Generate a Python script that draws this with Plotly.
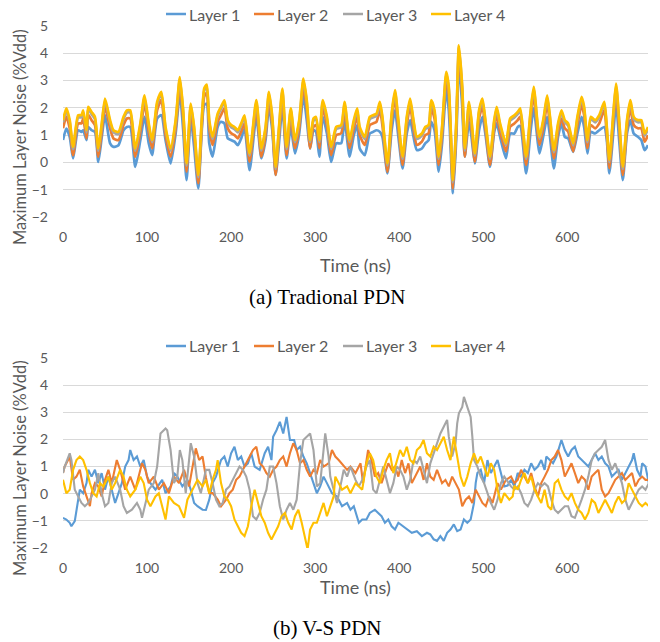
import plotly.graph_objects as go

# ---------------- (a) Traditional PDN ----------------
t_a = [0, 4, 8, 12, 18, 22, 24, 28, 30, 34,
       38, 42, 46, 50, 56, 60, 66, 72, 76, 80,
       86, 92, 97, 102, 106, 112, 117, 122, 128, 134,
       139, 143, 147, 152, 156, 161, 168, 171, 174, 178,
       184, 188, 192, 196, 200, 204, 208, 212, 216, 222,
       230, 236, 241, 245, 249, 253, 257, 261, 266, 271,
       276, 281, 286, 290, 294, 298, 301, 305, 309, 314,
       319, 325, 331, 335, 341, 346, 350, 353, 359, 365,
       369, 373, 377, 380, 386, 391, 395, 399, 404, 409,
       413, 417, 421, 427, 431, 435, 438, 442, 447, 451,
       456, 459, 464, 468, 471, 475, 478, 483, 486, 490,
       495, 499, 503, 508, 513, 516, 520, 527, 532, 537,
       541, 544, 551, 556, 560, 565, 567, 572, 576, 579,
       584, 589, 593, 597, 601, 607, 612, 617, 620, 624,
       628, 633, 638, 644, 647, 650, 655, 658, 662, 666,
       671, 675, 679, 684, 688, 692, 696]

a_layer1 = [0.82, 1.24, 0.94, 0.15, 1.18, 1.12, 1.18, 0.82, 1.30, 1.18,
            1.12, 0.02, 0.90, 1.73, 0.70, 0.57, 0.63, 1.18, 1.30, 1.30,
            -0.16, 0.82, 1.67, 0.70, 0.27, 1.61, 1.73, 0.82, -0.04, 1.06,
            2.52, 1.18, -0.65, 1.61, 0.57, -0.95, 2.10, 2.15, 0.70, 0.21,
            1.30, 1.49, 1.43, 0.88, 0.82, 0.76, 0.63, 0.88, 1.24, -0.28,
            1.67, 0.15, 0.82, 2.04, 1.18, -0.46, 0.70, 2.04, 0.15, 1.30,
            0.33, 1.06, 2.46, 1.55, 0.51, 1.18, 1.12, 0.21, 1.67, 1.06,
            0.02, 0.70, 0.70, 1.55, 0.21, 1.00, 1.37, 0.51, 0.27, 1.06,
            1.12, 1.18, 1.12, 0.94, -0.40, 1.18, 1.91, 0.94, -0.22, 1.06,
            1.55, 0.94, 0.45, 0.51, 0.70, 0.82, 1.49, 1.18, -0.34, 0.70,
            2.65, 1.91, -1.13, 0.94, 3.62, 2.04, 0.21, 1.49, 0.94, -0.04,
            1.18, 1.67, 0.94, -0.16, 1.12, 1.43, 0.94, 0.15, 1.06, 1.06,
            1.30, 1.33, -0.40, 1.06, 1.98, 0.70, 0.33, 1.06, 1.67, 1.06,
            -0.22, 0.94, 1.43, 0.94, 0.88, 0.39, 1.06, 1.67, 1.30, 0.33,
            1.12, 1.06, 1.18, 1.30, 0.82, -0.40, 1.18, 2.16, 0.70, -0.65,
            1.06, 1.55, 1.06, 0.94, 0.82, 0.45, 0.63]

a_layer2 = [1.25, 1.68, 1.25, 0.27, 1.43, 1.43, 1.61, 0.88, 1.74, 1.55,
            1.37, 0.21, 1.10, 2.04, 1.25, 0.88, 0.82, 1.37, 1.61, 1.61,
            0.21, 1.13, 2.16, 1.13, 0.52, 1.92, 2.29, 1.00, 0.21, 1.25,
            2.83, 1.61, -0.34, 1.86, 1.00, -0.76, 2.41, 2.55, 1.25, 0.64,
            1.49, 1.74, 1.98, 1.25, 1.07, 1.00, 0.88, 1.13, 1.43, 0.03,
            1.98, 0.21, 1.00, 2.29, 1.37, -0.46, 1.00, 2.41, 0.27, 1.68,
            0.52, 1.25, 2.77, 1.98, 0.52, 1.31, 1.37, 0.52, 1.98, 1.37,
            0.27, 1.00, 1.07, 1.92, 0.52, 1.25, 1.68, 1.00, 0.64, 1.37,
            1.43, 1.49, 1.92, 1.37, -0.34, 1.49, 2.35, 1.25, -0.09, 1.37,
            2.04, 1.25, 0.64, 0.76, 1.00, 1.07, 1.98, 1.61, -0.09, 1.00,
            3.02, 2.47, -0.95, 1.25, 3.99, 2.47, 0.21, 1.92, 1.25, 0.03,
            1.61, 2.04, 1.13, -0.09, 1.25, 1.74, 1.13, 0.40, 1.31, 1.43,
            1.55, 1.68, -0.09, 1.49, 2.47, 1.00, 0.64, 1.37, 2.16, 1.49,
            0.15, 1.13, 1.61, 1.25, 1.13, 0.40, 1.37, 2.10, 1.74, 0.52,
            1.37, 1.25, 1.43, 1.92, 1.00, -0.21, 1.61, 2.59, 1.13, -0.46,
            1.25, 1.98, 1.37, 1.25, 1.25, 0.76, 1.00]

a_layer3 = [1.47, 1.90, 1.47, 0.49, 1.65, 1.65, 1.83, 1.10, 1.96, 1.77,
            1.59, 0.43, 1.32, 2.26, 1.47, 1.10, 1.04, 1.59, 1.83, 1.83,
            0.43, 1.35, 2.38, 1.35, 0.74, 2.14, 2.51, 1.22, 0.43, 1.47,
            3.05, 1.83, -0.12, 2.08, 1.22, -0.54, 2.63, 2.77, 1.47, 0.86,
            1.71, 1.96, 2.20, 1.47, 1.29, 1.22, 1.10, 1.35, 1.65, 0.25,
            2.20, 0.43, 1.22, 2.51, 1.59, -0.24, 1.22, 2.63, 0.49, 1.90,
            0.74, 1.47, 2.99, 2.20, 0.74, 1.53, 1.59, 0.74, 2.20, 1.59,
            0.49, 1.22, 1.29, 2.14, 0.74, 1.47, 1.90, 1.22, 0.86, 1.59,
            1.65, 1.71, 2.14, 1.59, -0.12, 1.71, 2.57, 1.47, 0.13, 1.59,
            2.26, 1.47, 0.86, 0.98, 1.22, 1.29, 2.20, 1.83, 0.13, 1.22,
            3.24, 2.69, -0.73, 1.47, 4.21, 2.69, 0.43, 2.14, 1.47, 0.25,
            1.83, 2.26, 1.35, 0.13, 1.47, 1.96, 1.35, 0.62, 1.53, 1.65,
            1.77, 1.90, 0.13, 1.71, 2.69, 1.22, 0.86, 1.59, 2.38, 1.71,
            0.37, 1.35, 1.83, 1.47, 1.35, 0.62, 1.59, 2.32, 1.96, 0.74,
            1.59, 1.47, 1.65, 2.14, 1.22, 0.01, 1.83, 2.81, 1.35, -0.24,
            1.47, 2.20, 1.59, 1.47, 1.47, 0.98, 1.22]

a_layer4 = [1.55, 1.98, 1.55, 0.57, 1.73, 1.73, 1.91, 1.18, 2.04, 1.85,
            1.67, 0.51, 1.40, 2.34, 1.55, 1.18, 1.12, 1.67, 1.91, 1.91,
            0.51, 1.43, 2.46, 1.43, 0.82, 2.22, 2.59, 1.30, 0.51, 1.55,
            3.13, 1.91, -0.04, 2.16, 1.30, -0.46, 2.71, 2.85, 1.55, 0.94,
            1.79, 2.04, 2.28, 1.55, 1.37, 1.30, 1.18, 1.43, 1.73, 0.33,
            2.28, 0.51, 1.30, 2.59, 1.67, -0.16, 1.30, 2.71, 0.57, 1.98,
            0.82, 1.55, 3.07, 2.28, 0.82, 1.61, 1.67, 0.82, 2.28, 1.67,
            0.57, 1.30, 1.37, 2.22, 0.82, 1.55, 1.98, 1.30, 0.94, 1.67,
            1.73, 1.79, 2.22, 1.67, -0.04, 1.79, 2.65, 1.55, 0.21, 1.67,
            2.34, 1.55, 0.94, 1.06, 1.30, 1.37, 2.28, 1.91, 0.21, 1.30,
            3.32, 2.77, -0.65, 1.55, 4.29, 2.77, 0.51, 2.22, 1.55, 0.33,
            1.91, 2.34, 1.43, 0.21, 1.55, 2.04, 1.43, 0.70, 1.61, 1.73,
            1.85, 1.98, 0.21, 1.79, 2.77, 1.30, 0.94, 1.67, 2.46, 1.79,
            0.45, 1.43, 1.91, 1.55, 1.43, 0.70, 1.67, 2.40, 2.04, 0.82,
            1.67, 1.55, 1.73, 2.22, 1.30, 0.09, 1.91, 2.89, 1.43, -0.16,
            1.55, 2.28, 1.67, 1.55, 1.55, 1.06, 1.30]

# ---------------- (b) V-S PDN : (time ns, noise %Vdd) ----------------
b_layer1 = [(0, -0.89), (4, -0.95), (8, -1.07), (10, -1.2), (14, -1.01), (18, -0.1), (20, 0.15), (24, 0.02),
            (28, 0.39), (30, 0.88), (34, 0.63), (38, 0.88), (42, 0.39), (46, 0.76), (50, 0.15), (54, 0.63),
            (58, 0.15), (62, -0.34), (66, 0.02), (70, 0.39), (74, 1.0), (78, 1.24), (80, 1.61), (84, 1.24),
            (88, 1.37), (92, 1.0), (96, 1.24), (100, 0.63), (104, 0.39), (110, 0.15), (118, 0.51), (122, 0.02),
            (128, 0.27), (132, 0.76), (136, 0.63), (142, 0.27), (148, 0.51), (152, 0.15), (156, -0.34), (160, -0.46),
            (166, -0.59), (170, -0.6), (174, -0.22), (178, 0.39), (182, 0.63), (188, 1.24), (192, 1.37), (196, 1.0),
            (200, 1.49), (204, 1.73), (208, 1.24), (212, 1.37), (216, 1.0), (220, 1.12), (224, 1.49), (228, 1.0),
            (234, 0.88), (240, 1.49), (244, 1.73), (248, 1.24), (250, 2.1), (254, 2.34), (258, 2.65), (262, 2.22),
            (266, 2.83), (270, 1.98), (275, 1.98), (278, 1.61), (282, 1.73), (286, 1.37), (290, 1.12), (294, 0.76),
            (298, 0.39), (302, 0.02), (306, 0.27), (310, 0.63), (314, 0.39), (320, 0.02), (326, -0.1), (332, -0.46),
            (338, -0.34), (342, -0.59), (346, -0.46), (352, -1.07), (356, -0.95), (361, -0.95), (365, -0.71), (371, -0.59),
            (375, -0.71), (379, -0.83), (383, -1.07), (387, -0.95), (391, -1.2), (395, -1.32), (399, -1.07), (405, -1.2),
            (409, -1.32), (415, -1.44), (421, -1.38), (427, -1.56), (433, -1.44), (437, -1.5), (441, -1.68), (445, -1.74),
            (449, -1.56), (453, -1.74), (457, -1.44), (461, -1.32), (465, -1.13), (469, -1.38), (473, -1.32), (477, -0.95),
            (481, -1.07), (485, -0.95), (489, -0.34), (491, 0.39), (493, 0.76), (497, 0.88), (501, 0.39), (505, 1.24),
            (509, 0.76), (513, 1.0), (517, 1.24), (521, 0.76), (525, 0.27), (529, 0.3), (533, 0.51), (537, 0.27),
            (541, 0.76), (545, 0.63), (549, 0.88), (553, 0.76), (557, 1.12), (561, 0.88), (565, 1.0), (569, 1.24),
            (573, 0.88), (575, 1.37), (579, 1.24), (583, 1.12), (587, 1.37), (591, 1.73), (593, 1.98), (597, 1.61),
            (601, 1.37), (605, 1.61), (609, 1.73), (613, 1.37), (617, 1.24), (621, 1.12), (625, 1.0), (629, 1.24),
            (633, 1.49), (637, 1.24), (641, 1.37), (645, 1.12), (649, 1.0), (653, 0.63), (657, 0.76), (661, 0.88),
            (665, 0.51), (669, 0.76), (673, 1.0), (677, 1.24), (679, 1.49), (683, 0.88), (687, 0.63), (689, 1.12),
            (693, 1.0), (697, 0.39)]

b_layer2 = [(0, 0.76), (2, 1.0), (6, 1.24), (8, 1.37), (12, 0.51), (16, 0.63), (20, 0.88), (24, 0.27),
            (28, -0.1), (32, -0.46), (34, 0.02), (38, 0.39), (42, 0.27), (46, -0.1), (50, 0.51), (54, 0.88),
            (58, 0.39), (64, 1.24), (68, 0.88), (74, 0.15), (80, 0.63), (86, 0.15), (94, 1.12), (98, 0.88),
            (102, 0.39), (108, 0.63), (114, 0.15), (120, 0.39), (126, 0.02), (132, 0.63), (138, 0.39), (144, 0.88),
            (150, 0.27), (158, 1.67), (162, 1.24), (166, 1.37), (170, 0.6), (174, 0.02), (178, 0.02), (184, -0.22),
            (188, -0.46), (194, -0.22), (198, 0.02), (202, 0.15), (206, 0.51), (210, 0.63), (214, 0.88), (218, 1.12),
            (222, 1.37), (226, 1.61), (230, 1.73), (234, 1.12), (238, 1.0), (242, 0.76), (246, 0.63), (250, 0.88),
            (254, 1.0), (258, 1.24), (262, 1.37), (266, 1.0), (270, 1.49), (274, 1.86), (278, 1.61), (282, 1.12),
            (286, 1.24), (290, 0.88), (294, 0.63), (298, 0.88), (302, 0.76), (306, 1.24), (310, 1.0), (316, 1.12),
            (320, 1.61), (324, 1.37), (328, 1.24), (334, 1.0), (338, 0.88), (342, 1.0), (348, 0.76), (354, 1.12),
            (357, 0.39), (363, 1.61), (367, 1.24), (371, 0.63), (375, 0.76), (379, 0.39), (383, 0.76), (387, 1.12),
            (391, 0.88), (395, 1.0), (399, 0.63), (403, 1.24), (407, 0.76), (411, 1.12), (415, 0.39), (419, 0.63),
            (425, 1.0), (429, 0.51), (433, 1.12), (437, 0.63), (441, 0.51), (445, 0.88), (451, 0.39), (455, 0.51),
            (459, 0.27), (463, 0.63), (467, 0.39), (471, 0.15), (475, -0.46), (479, -0.22), (483, -0.1), (487, -0.34),
            (491, 0.15), (495, -0.1), (499, -0.34), (503, -0.46), (507, -0.1), (511, -0.34), (517, 0.39), (521, 0.15),
            (527, 0.51), (533, 0.63), (537, 0.39), (541, 0.51), (545, 0.88), (549, 0.63), (553, 0.39), (557, 0.76),
            (561, 0.27), (565, -0.1), (569, 0.39), (573, 0.63), (577, 0.88), (581, 1.24), (585, 1.37), (589, 1.61),
            (593, 1.24), (597, 0.63), (601, 0.88), (605, 1.12), (609, 0.76), (613, 0.39), (617, 0.63), (621, 0.51),
            (625, 0.15), (629, 0.63), (633, 0.76), (637, 0.88), (641, 0.15), (645, -0.1), (649, 0.02), (653, 0.27),
            (657, 0.51), (661, 0.63), (665, 0.76), (669, 0.51), (673, 0.63), (677, 0.76), (681, 0.27), (685, 0.51),
            (689, 0.63), (693, 0.51), (697, 0.51)]

b_layer3 = [(0, 0.76), (2, 1.0), (8, 1.49), (10, 1.24), (14, 0.15), (18, -0.1), (22, -0.34), (26, -0.46),
            (30, -0.34), (34, -0.1), (38, 0.15), (42, 0.76), (46, 0.02), (50, -0.46), (54, -0.34), (58, 0.39),
            (62, 0.63), (68, 0.15), (72, -0.46), (76, -0.71), (82, -0.59), (88, -0.34), (92, -0.59), (94, -0.89),
            (98, -0.34), (102, 0.15), (108, 0.39), (112, 1.0), (116, 2.22), (122, 2.4), (124, 2.34), (128, 1.61),
            (132, 0.39), (136, 0.63), (139, 1.61), (142, 1.24), (146, 0.02), (148, 0.63), (152, 1.86), (156, 1.37),
            (160, 0.39), (164, 0.02), (170, 0.88), (174, 0.88), (178, 0.39), (182, -0.22), (186, -0.46), (190, -0.34),
            (194, 0.15), (198, 0.27), (202, 0.51), (206, 0.76), (210, 1.0), (214, 0.88), (218, 0.63), (222, 0.15),
            (226, -0.83), (230, -0.95), (234, -0.71), (238, -0.22), (242, 0.15), (246, 1.0), (250, 1.0), (254, 0.39),
            (258, -0.46), (262, -0.95), (266, -0.59), (270, -0.34), (274, -0.59), (278, -0.22), (282, 1.12), (286, 1.98),
            (290, 2.1), (294, 2.22), (298, 1.61), (302, 0.27), (306, 0.39), (310, 1.73), (312, 2.22), (316, 1.37),
            (318, 0.63), (322, 0.15), (326, -0.34), (330, 0.27), (334, 0.88), (338, 0.63), (342, 1.0), (348, 0.51),
            (352, 0.27), (356, 0.51), (361, 1.0), (365, 1.24), (369, 0.15), (373, 0.02), (377, 0.51), (381, 1.0),
            (385, 0.51), (389, 0.02), (393, 0.39), (397, 1.0), (401, 0.88), (405, 0.63), (409, 0.15), (413, 0.51),
            (417, 1.24), (421, 1.12), (425, 1.37), (429, 0.88), (433, 0.39), (437, 1.12), (441, 1.49), (445, 1.86),
            (449, 2.22), (453, 2.47), (457, 2.72), (459, 2.1), (463, 1.37), (467, 1.86), (469, 2.59), (471, 2.96),
            (475, 3.2), (477, 3.57), (481, 3.2), (485, 2.83), (487, 2.1), (489, 1.24), (493, 1.0), (497, 0.63),
            (501, 0.39), (505, 0.02), (509, -0.34), (513, -0.59), (517, -0.22), (521, 0.39), (525, 0.63), (533, 0.27),
            (537, 0.15), (541, 0.27), (545, 0.02), (549, -0.34), (553, -0.46), (557, -0.22), (561, 0.15), (565, 0.39),
            (569, 0.27), (573, 0.39), (577, 0.27), (581, -0.22), (585, -0.59), (589, -0.71), (593, -0.59), (597, -0.46),
            (601, -0.46), (605, -0.83), (609, -0.89), (613, -0.59), (617, -0.22), (621, 0.15), (625, 0.63), (629, 1.24),
            (633, 1.49), (637, 1.61), (641, 1.73), (645, 1.98), (649, 1.24), (653, 0.88), (657, 1.12), (661, 0.76),
            (665, 0.39), (669, -0.22), (673, -0.59), (677, -0.34), (681, -0.1), (685, 0.15), (689, 0.27), (693, 0.15),
            (697, 0.39)]

b_layer4 = [(0, 0.51), (4, 0.02), (8, 0.15), (12, 0.88), (16, 1.24), (20, 1.37), (24, 1.24), (28, 0.88),
            (32, 0.39), (36, 0.02), (40, -0.1), (44, 0.39), (48, 0.27), (54, 0.63), (58, 0.15), (62, 0.39),
            (68, 0.88), (72, 0.63), (76, 0.15), (80, -0.1), (86, 0.15), (92, 0.63), (96, 0.39), (100, -0.22),
            (104, -0.46), (110, -0.1), (114, 0.02), (118, -0.46), (122, -0.95), (126, -0.1), (132, -0.34), (138, -0.46),
            (144, -0.89), (148, -0.22), (154, 0.15), (160, 0.51), (166, 0.27), (170, 0.51), (174, 0.02), (178, 0.51),
            (182, 0.88), (184, 1.24), (188, 0.39), (192, -0.1), (196, -0.22), (200, -0.46), (204, -0.95), (208, -1.2),
            (212, -1.44), (216, -1.56), (220, -1.2), (224, -0.46), (228, 0.15), (232, -0.34), (236, -0.83), (240, -1.07),
            (244, -1.44), (248, -1.69), (252, -1.44), (256, -1.2), (260, -0.83), (264, -0.71), (268, -1.07), (272, -1.32),
            (276, -0.83), (280, -0.59), (284, -1.07), (288, -1.69), (291, -2.05), (294, -1.32), (298, -1.07), (302, -1.07),
            (306, -0.71), (310, -0.34), (314, -0.83), (318, -0.46), (322, -0.1), (324, 0.63), (328, 0.39), (332, 0.15),
            (338, 0.27), (342, 0.02), (348, 0.39), (352, 0.27), (356, 0.15), (361, 1.12), (365, 1.49), (369, 1.24),
            (373, 0.63), (377, 0.39), (381, 0.88), (385, 1.24), (389, 1.49), (393, 0.76), (397, 1.24), (401, 1.61),
            (405, 1.37), (409, 1.73), (413, 1.24), (417, 1.12), (421, 1.61), (425, 1.73), (429, 1.98), (433, 1.49),
            (437, 1.37), (441, 1.73), (445, 1.61), (449, 1.86), (453, 2.1), (457, 1.61), (461, 1.24), (465, 2.1),
            (469, 1.37), (473, 0.63), (477, 0.27), (481, 0.63), (485, 1.12), (489, 1.49), (493, 1.12), (497, 1.37),
            (501, 1.0), (505, 0.63), (509, 1.12), (513, 0.88), (517, 0.15), (521, -0.34), (525, 0.02), (531, -0.22),
            (535, -0.1), (537, 0.3), (541, 0.15), (545, 0.51), (549, 0.76), (553, 0.39), (557, 0.63), (561, 0.15),
            (565, -0.1), (569, -0.34), (573, 0.15), (577, -0.46), (581, -0.59), (585, 0.39), (589, 0.51), (593, 0.15),
            (597, -0.1), (601, -0.22), (605, 0.02), (609, -0.34), (613, -0.59), (617, -0.71), (621, -0.95), (625, -0.71),
            (629, -0.22), (633, -0.34), (637, -0.71), (641, -0.46), (645, -0.22), (649, -0.46), (653, -0.71), (657, -0.34),
            (661, -0.1), (665, -0.34), (669, -0.22), (673, 0.39), (677, 0.15), (681, -0.1), (685, -0.34), (689, -0.46),
            (693, -0.34), (697, -0.46)]

layer_names = ["Layer 1", "Layer 2", "Layer 3", "Layer 4"]
layer_colors = ["#5B9BD5", "#ED7D31", "#A5A5A5", "#FFC000"]
y_ticks = [-2, -1, 0, 1, 2, 3, 4, 5]
x_ticks = [0, 100, 200, 300, 400, 500, 600]
captions = ["(a) Tradional PDN", "(b) V-S PDN"]

W, H = 660, 642
L_PX, R_PX = 63, 648
TEXT = "#595959"
FONT = "Lato"

fig = go.Figure()

for name, vals, col in zip(layer_names, [a_layer1, a_layer2, a_layer3, a_layer4], layer_colors):
    fig.add_trace(go.Scatter(x=t_a, y=vals, mode="lines", name=name, showlegend=False,
                             line=dict(color=col, width=2.7, shape="spline", smoothing=0.6),
                             xaxis="x", yaxis="y"))

for name, pairs, col in zip(layer_names, [b_layer1, b_layer2, b_layer3, b_layer4], layer_colors):
    fig.add_trace(go.Scatter(x=[p[0] for p in pairs], y=[p[1] for p in pairs], mode="lines",
                             name=name, showlegend=False, line=dict(color=col, width=2.1),
                             xaxis="x2", yaxis="y2"))


def py(px):
    return 1 - px / H


def px_x(px):
    return (px - L_PX) / (R_PX - L_PX)


axis_common_x = dict(range=[0, 696], tickvals=x_ticks, showgrid=False, zeroline=False,
                     showline=False, ticks="", ticklabelstandoff=10,
                     tickfont=dict(family=FONT, size=14, color=TEXT))
axis_common_y = dict(range=[-2, 5], tickvals=y_ticks, showgrid=True, gridcolor="#D9D9D9",
                     gridwidth=1, zeroline=False, showline=False, ticks="",
                     ticklabelstandoff=14, tickfont=dict(family=FONT, size=14, color=TEXT))

fig.update_layout(
    width=W, height=H,
    margin=dict(l=L_PX, r=W - R_PX, t=0, b=0, autoexpand=False),
    paper_bgcolor="white", plot_bgcolor="white",
    showlegend=False,
    xaxis=dict(domain=[0, 1], anchor="y", **axis_common_x),
    yaxis=dict(domain=[py(217), py(26)], anchor="x", **axis_common_y),
    xaxis2=dict(domain=[0, 1], anchor="y2", **axis_common_x),
    yaxis2=dict(domain=[py(548), py(358)], anchor="x2", **axis_common_y),
)

annots = []
shapes = []
legend_line_x = [166, 254, 343, 431]
for ycap, ytitle, ytick_mid, yleg, cap in [(297, 265, 137, 14, captions[0]),
                                            (628, 587, 468, 346, captions[1])]:
    annots.append(dict(text="Time (ns)", x=px_x(355), y=py(ytitle), xref="paper", yref="paper",
                       showarrow=False, xanchor="center", yanchor="middle",
                       font=dict(family=FONT, size=18, color=TEXT)))
    annots.append(dict(text="Maximum Layer Noise (%Vdd)", x=px_x(20), y=py(ytick_mid), xref="paper",
                       yref="paper", showarrow=False, textangle=-90, xanchor="center",
                       yanchor="middle", font=dict(family=FONT, size=16.5, color=TEXT)))
    annots.append(dict(text=cap, x=px_x(327), y=py(ycap), xref="paper", yref="paper",
                       showarrow=False, xanchor="center", yanchor="middle",
                       font=dict(family="Liberation Serif", size=21, color="black")))
    # legend: short line sample followed by the series name
    for lx, name, col in zip(legend_line_x, layer_names, layer_colors):
        shapes.append(dict(type="line", xref="paper", yref="paper",
                           x0=px_x(lx), x1=px_x(lx + 20), y0=py(yleg), y1=py(yleg),
                           line=dict(color=col, width=2.5)))
        annots.append(dict(text=name, x=px_x(lx + 21), y=py(yleg), xref="paper", yref="paper",
                           showarrow=False, xanchor="left", yanchor="middle",
                           font=dict(family=FONT, size=16, color=TEXT)))
fig.update_layout(annotations=annots, shapes=shapes)

fig.write_html("out.html", config={"displayModeBar": False},
               post_script="document.body.style.margin='0px';")
